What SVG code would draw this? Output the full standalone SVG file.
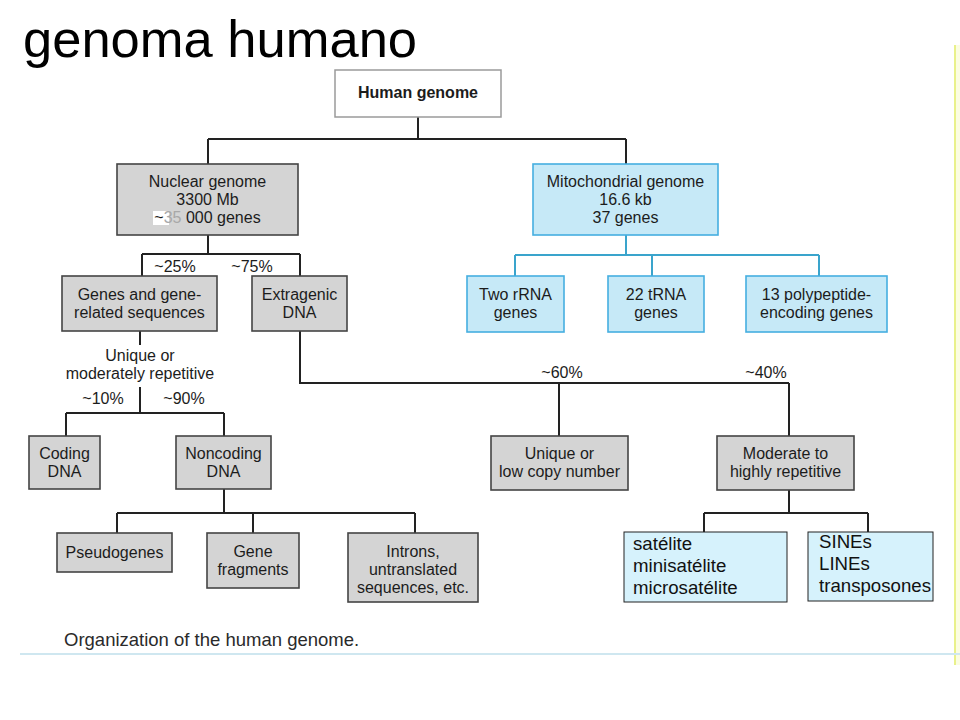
<svg xmlns="http://www.w3.org/2000/svg" width="960" height="720" viewBox="0 0 960 720">
<style>
.t{font-family:"Liberation Sans",Arial,sans-serif;font-size:16px;fill:#1c1c1c;text-anchor:middle}
.b{font-weight:bold}
.g{fill:#d4d4d4;stroke:#444;stroke-width:1.6}
.m{fill:#c6e9f7;stroke:#45aee0;stroke-width:1.6}
.s{fill:#d6f2fc;stroke:#222;stroke-width:1}
.st{font-family:"Liberation Sans",Arial,sans-serif;font-size:18.67px;fill:#111}
.c{fill:none;stroke:#222;stroke-width:2}
.cm{fill:none;stroke:#3aa4cc;stroke-width:2}
</style>
<rect width="960" height="720" fill="#ffffff"/>
<text x="23" y="57" font-family="Liberation Sans,Arial,sans-serif" font-size="52.5" fill="#000">genoma humano</text>
<rect x="954" y="45" width="6" height="620" fill="#fbfde2"/>
<line x1="955" y1="45" x2="955" y2="665" stroke="#e3ec6e" stroke-width="1.5"/>
<line x1="20" y1="654" x2="960" y2="654" stroke="#cfe7f0" stroke-width="2"/>
<g id="connectors">
<path class="c" d="M418 117V139M208 139H626M208 139V165M626 139V165"/>
<path class="c" d="M208 235V254M142 254H300M142 254V276M300 254V276"/>
<path class="cm" d="M626 235V255M515 255H819M515 255V276M652 255V276M819 255V276"/>
<path class="c" d="M140 331V345M140 387V413M66 413H224M66 413V436M224 413V436"/>
<path class="c" d="M224 489V513M117 513H415M117 513V533M253 513V533M415 513V533"/>
<path class="c" d="M300 331V383H789M559 383V436M789 383V436"/>
<path class="c" d="M789 490V513M704 513H868M704 513V532M868 513V532"/>
</g>
<g id="human-genome">
<rect x="335" y="70" width="166" height="47" fill="#fff" stroke="#9a9a9a" stroke-width="1.5"/>
<text class="t b" x="418" y="98" font-size="16.5">Human genome</text>
</g>
<g id="nuclear-genome">
<rect class="g" x="117" y="164" width="181" height="71"/>
<text class="t" x="207.5" y="187">Nuclear genome</text>
<text class="t" x="207.5" y="205">3300 Mb</text>
<rect x="153" y="211" width="16" height="14" fill="#fff"/>
<text class="t" x="207.5" y="223">~<tspan fill="#a8a8a8">35</tspan> 000 genes</text>
</g>
<g id="mitochondrial-genome">
<rect class="m" x="533" y="164" width="185" height="71"/>
<text class="t" x="625.5" y="187">Mitochondrial genome</text>
<text class="t" x="625.5" y="205">16.6 kb</text>
<text class="t" x="625.5" y="223">37 genes</text>
</g>
<g id="labels">
<text class="t" x="175" y="272">~25%</text>
<text class="t" x="252" y="272">~75%</text>
<text class="t" x="140" y="361">Unique or</text>
<text class="t" x="140" y="379">moderately repetitive</text>
<text class="t" x="103" y="404">~10%</text>
<text class="t" x="184" y="404">~90%</text>
<text class="t" x="562" y="378">~60%</text>
<text class="t" x="766" y="378">~40%</text>
</g>
<g id="genes-related">
<rect class="g" x="62" y="276" width="155" height="55"/>
<text class="t" x="139.5" y="300">Genes and gene-</text>
<text class="t" x="139.5" y="318">related sequences</text>
</g>
<g id="extragenic">
<rect class="g" x="252" y="276" width="95" height="55"/>
<text class="t" x="299.5" y="300">Extragenic</text>
<text class="t" x="299.5" y="318">DNA</text>
</g>
<g id="two-rrna">
<rect class="m" x="467" y="276" width="97" height="56"/>
<text class="t" x="515.5" y="300">Two rRNA</text>
<text class="t" x="515.5" y="318">genes</text>
</g>
<g id="trna">
<rect class="m" x="608" y="276" width="96" height="56"/>
<text class="t" x="656" y="300">22 tRNA</text>
<text class="t" x="656" y="318">genes</text>
</g>
<g id="polypeptide">
<rect class="m" x="746" y="276" width="141" height="56"/>
<text class="t" x="816.5" y="300">13 polypeptide-</text>
<text class="t" x="816.5" y="318">encoding genes</text>
</g>
<g id="coding">
<rect class="g" x="29" y="436" width="71" height="53"/>
<text class="t" x="64.5" y="459">Coding</text>
<text class="t" x="64.5" y="477">DNA</text>
</g>
<g id="noncoding">
<rect class="g" x="176" y="436" width="95" height="53"/>
<text class="t" x="223.5" y="459">Noncoding</text>
<text class="t" x="223.5" y="477">DNA</text>
</g>
<g id="unique-low">
<rect class="g" x="491" y="436" width="137" height="54"/>
<text class="t" x="559.5" y="459">Unique or</text>
<text class="t" x="559.5" y="477">low copy number</text>
</g>
<g id="moderate">
<rect class="g" x="717" y="436" width="137" height="54"/>
<text class="t" x="785.5" y="459">Moderate to</text>
<text class="t" x="785.5" y="477">highly repetitive</text>
</g>
<g id="pseudogenes">
<rect class="g" x="57" y="533" width="115" height="39"/>
<text class="t" x="114.5" y="558">Pseudogenes</text>
</g>
<g id="gene-fragments">
<rect class="g" x="207" y="533" width="92" height="55"/>
<text class="t" x="253" y="557">Gene</text>
<text class="t" x="253" y="575">fragments</text>
</g>
<g id="introns">
<rect class="g" x="348" y="533" width="130" height="69"/>
<text class="t" x="413" y="557">Introns,</text>
<text class="t" x="413" y="575">untranslated</text>
<text class="t" x="413" y="593">sequences, etc.</text>
</g>
<g id="satelite">
<rect class="s" x="624" y="532" width="163" height="70"/>
<text class="st" x="633" y="550">satélite</text>
<text class="st" x="633" y="572">minisatélite</text>
<text class="st" x="633" y="594">microsatélite</text>
</g>
<g id="sines">
<rect class="s" x="808" y="532" width="125" height="69"/>
<text class="st" x="819" y="548">SINEs</text>
<text class="st" x="819" y="570">LINEs</text>
<text class="st" x="819" y="592">transposones</text>
</g>
<text x="64" y="646" font-family="Liberation Sans,Arial,sans-serif" font-size="18.5" fill="#2a2a2a">Organization of the human genome.</text>
</svg>
